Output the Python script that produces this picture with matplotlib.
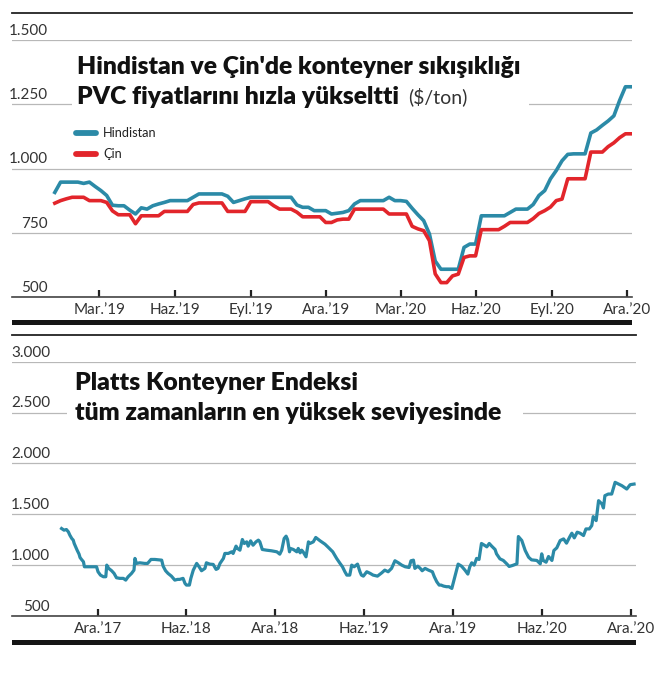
import matplotlib
matplotlib.use("Agg")
import matplotlib.pyplot as plt
from matplotlib.patches import Rectangle
from matplotlib.lines import Line2D
import matplotlib.transforms as mtransforms
import pandas as pd

# ---------------- DATA ----------------
pvc_start = "2019-01-06"   # weekly series
hindistan = [907, 947, 947, 947, 947, 942, 947, 930, 914, 895,
             857, 855, 855, 838, 823, 847, 842, 855, 862, 868,
             875, 875, 875, 875, 888, 901, 901, 901, 901, 901,
             892, 868, 875, 882, 888, 888, 888, 888, 888, 888,
             888, 888, 858, 849, 849, 836, 836, 836, 823, 826,
             829, 836, 862, 875, 875, 875, 875, 875, 888, 875,
             875, 872, 845, 820, 797, 745, 640, 608, 608, 608,
             608, 693, 706, 706, 816, 816, 816, 816, 816, 829,
             842, 842, 842, 860, 895, 914, 960, 992, 1030, 1055,
             1057, 1057, 1057, 1138, 1150, 1168, 1185, 1205, 1265, 1318,
             1318]
cin = [865, 875, 882, 888, 888, 888, 875, 875, 875, 868,
       835, 820, 820, 820, 785, 816, 816, 816, 816, 833,
       833, 833, 833, 833, 860, 866, 866, 866, 866, 866,
       833, 833, 833, 833, 871, 871, 871, 871, 855, 842,
       842, 842, 830, 812, 812, 812, 812, 790, 790, 800,
       803, 803, 842, 842, 842, 842, 842, 842, 823, 823,
       823, 823, 775, 765, 758, 719, 590, 556, 556, 582,
       589, 654, 660, 660, 762, 762, 762, 762, 775, 790,
       790, 790, 790, 805, 825, 836, 850, 875, 881, 960,
       960, 960, 960, 1064, 1064, 1064, 1085, 1100, 1120, 1135,
       1135]
pvc_series = ["Hindistan", "Çin"]
pvc_xticks = ["2019-03-01", "2019-06-01", "2019-09-01", "2019-12-01",
              "2020-03-01", "2020-06-01", "2020-09-01", "2020-12-01"]
pvc_xlabels = ["Mar.’19", "Haz.’19", "Eyl.’19", "Ara.’19",
               "Mar.’20", "Haz.’20", "Eyl.’20", "Ara.’20"]
pvc_yticks = [500, 750, 1000, 1250, 1500]
pvc_ylabels = ["500", "750", "1.000", "1.250", "1.500"]

platts_start = "2017-09-17"
platts_days = [0, 5, 10, 14, 17, 21, 24, 26, 29, 32,
               36, 38, 41, 45, 47, 55, 72, 75, 80, 86,
               91, 93, 97, 103, 108, 113, 120, 127, 132, 137,
               144, 149, 151, 154, 161, 171, 177, 184, 192, 206,
               209, 214, 219, 226, 233, 239, 243, 250, 254, 257,
               263, 266, 271, 278, 283, 288, 295,
               298, 305, 312, 318, 322, 326, 333, 336, 343, 350,
               353, 359, 362, 367, 372, 376, 381, 384, 389, 394,
               400, 405, 408, 413, 422, 432, 443, 449, 453, 458,
               462, 465, 469, 471, 477, 484, 487, 491, 494, 497,
               503, 508, 511, 518, 523, 532, 542, 549, 558, 566,
               573, 578, 583, 587, 593,
               597, 602, 609, 614, 617, 621, 628, 635, 641, 650,
               659, 665, 672, 679, 686, 693, 700, 707, 715, 719,
               724, 727, 733, 738, 742, 748, 755, 763, 767, 772,
               777, 781, 786, 792, 797, 803, 810, 816, 823, 830,
               836, 840, 844, 849, 854, 859, 864, 870, 875, 880,
               885, 892,
               895, 902, 909, 916, 921, 928, 937, 940, 947, 954,
               961, 967, 978, 985, 988, 991, 997, 1002, 1009, 1013,
               1019, 1026, 1033, 1039, 1046, 1050, 1055, 1061, 1067, 1074,
               1079, 1086, 1091, 1094, 1100, 1105, 1112, 1115, 1118, 1125,
               1132, 1139, 1146, 1153, 1163, 1170, 1178]
platts_values = [1360, 1344, 1350, 1327, 1295, 1262, 1246, 1213, 1180, 1147,
                 1108, 1075, 1056, 1033, 984, 984, 984, 935, 902, 886,
                 886, 1000, 968, 945, 919, 876, 870, 870, 853, 886,
                 919, 951, 1066, 1017, 1023, 1017, 1017, 1056, 1056, 1049,
                 990, 945, 919, 892, 853, 860, 860, 870, 820, 804,
                 804, 870, 951, 1017, 984, 945, 968,
                 1023, 1010, 1007, 958, 968, 1017, 1066, 1115, 1115, 1131,
                 1115, 1187, 1164, 1147, 1252, 1213, 1229, 1187, 1239, 1196,
                 1229, 1246, 1229, 1154, 1147, 1141, 1131, 1108, 1147, 1262,
                 1285, 1252, 1131, 1164, 1154, 1131, 1164, 1121, 1147, 1131,
                 1082, 1229, 1213, 1229, 1272, 1239, 1206, 1174, 1131, 1066,
                 1017, 984, 935, 902, 902,
                 1000, 984, 1010, 935, 902, 892, 935, 919, 902, 892,
                 925, 951, 935, 968, 1043, 1023, 1000, 984, 977, 1043,
                 1049, 968, 990, 968, 945, 968, 951, 935, 886, 837,
                 804, 804, 794, 788, 788, 771, 902, 1010, 990, 951,
                 912, 984, 1023, 1000, 1066, 1056, 1213, 1196, 1180, 1213,
                 1187, 1154,
                 1111, 1062, 1046, 1013, 987, 997, 1013, 1281, 1242, 1144,
                 1078, 1052, 1046, 1013, 1111, 1046, 1029, 1085, 1046, 1144,
                 1170, 1242, 1258, 1216, 1281, 1314, 1268, 1324, 1314, 1291,
                 1356, 1356, 1389, 1477, 1438, 1634, 1601, 1562, 1683, 1699,
                 1699, 1814, 1797, 1781, 1748, 1791, 1797]
platts_xticks = ["2017-12-01", "2018-06-01", "2018-12-01", "2019-06-01",
                 "2019-12-01", "2020-06-01", "2020-12-01"]
platts_xlabels = ["Ara.’17", "Haz.’18", "Ara.’18", "Haz.’19",
                  "Ara.’19", "Haz.’20", "Ara.’20"]
platts_yticks = [500, 1000, 1500, 2000, 2500, 3000]
platts_ylabels = ["500", "1.000", "1.500", "2.000", "2.500", "3.000"]

title1 = ["Hindistan ve Çin'de konteyner sıkışıklığı", "PVC fiyatlarını hızla yükseltti"]
unit1 = "($/ton)"
title2 = ["Platts Konteyner Endeksi", "tüm zamanların en yüksek seviyesinde"]

# ---------------- STYLE ----------------
BLUE = "#2b8aa7"
RED = "#e2252b"
FONT = ["Lato", "DejaVu Sans"]
plt.rcParams["font.family"] = FONT

W, H = 670, 684
fig = plt.figure(figsize=(W / 100, H / 100), dpi=100)
fig.patch.set_facecolor("white")
renderer = fig.canvas.get_renderer()


def fx(x):
    return x / W


def fy(y):
    return 1 - y / H


def fit(t, width_px):
    bb = t.get_window_extent(renderer)
    t.set_fontsize(t.get_fontsize() * width_px / bb.width)


def setup(ax, x0, x1, yticks, ylabels, xticks, xlabels, label_right_px, left_px, width_px):
    ax.set_xlim(pd.Timestamp(x0), pd.Timestamp(x1))
    ax.set_ylim(yticks[0], yticks[-1])
    ax.set_facecolor("none")
    for s in ["top", "left", "right"]:
        ax.spines[s].set_visible(False)
    ax.spines["bottom"].set_color("#444444")
    ax.spines["bottom"].set_linewidth(1.2)
    ax.set_yticks(yticks)
    ax.tick_params(axis="y", length=0, labelleft=False)
    ax.grid(axis="y", color="#b8b8b8", lw=0.9)
    ax.set_axisbelow(True)
    ax.set_xticks(pd.to_datetime(xticks))
    ax.set_xticklabels(xlabels)
    ax.tick_params(axis="x", direction="in", length=5, width=1.6, color="#222222",
                   pad=4, labelsize=11, labelcolor="#333333")
    trans = mtransforms.offset_copy(ax.get_yaxis_transform(), fig=fig, y=1.5, units="points")
    for v, lab in zip(yticks, ylabels):
        ax.text((label_right_px - left_px) / width_px, v, lab, transform=trans,
                ha="right", va="bottom", fontsize=11, color="#333333")


# ---------------- TOP CHART ----------------
L1, R1 = 12, 632
ax1 = fig.add_axes([fx(L1), fy(297), (R1 - L1) / W, (297 - 40) / H])
setup(ax1, "2018-11-15", "2020-12-07", pvc_yticks, pvc_ylabels,
      pvc_xticks, pvc_xlabels, 48, L1, R1 - L1)
dates1 = pd.date_range(pvc_start, periods=len(hindistan), freq="7D")
ax1.plot(dates1, hindistan, color=BLUE, lw=2.6, solid_joinstyle="round", zorder=3)
ax1.plot(dates1, cin, color=RED, lw=2.6, solid_joinstyle="round", zorder=3)

# white box behind title
ax1.add_patch(Rectangle((fx(72), fy(116)), fx(529) - fx(72), fy(48) - fy(116),
                        transform=fig.transFigure, facecolor="white", edgecolor="none",
                        zorder=1, clip_on=False))
t = fig.text(fx(77), fy(67), title1[0], fontsize=15, fontweight="heavy",
             color="#111111", va="center", ha="left")
fit(t, 445)
fs_title = t.get_fontsize()
t2 = fig.text(fx(77), fy(97), title1[1], fontsize=fs_title, fontweight="heavy",
              color="#111111", va="center", ha="left")
tu = fig.text(fx(408), fy(97), unit1, fontsize=13, fontweight="normal",
              color="#333333", va="center", ha="left")
fit(tu, 59)

# legend
for i, (name, col) in enumerate(zip(pvc_series, [BLUE, RED])):
    yy = 133 + i * 21
    fig.add_artist(Line2D([fx(76), fx(96)], [fy(yy), fy(yy)], color=col, lw=4.2,
                          solid_capstyle="round", transform=fig.transFigure))
    tl = fig.text(fx(103), fy(yy), name, fontsize=10.5, color="#222222",
                  va="center", ha="left")
    if i == 0:
        fit(tl, 54)
        fs_leg = tl.get_fontsize()
    else:
        tl.set_fontsize(fs_leg)

# rules
fig.add_artist(Line2D([fx(12), fx(632)], [fy(12.5), fy(12.5)], color="#222222", lw=1.3,
                      transform=fig.transFigure))
fig.add_artist(Rectangle((fx(12), fy(325)), fx(632) - fx(12), fy(319.5) - fy(325),
                         transform=fig.transFigure, facecolor="#151515", edgecolor="none"))
fig.add_artist(Line2D([fx(12), fx(636)], [fy(335.5), fy(335.5)], color="#222222", lw=1.3,
                      transform=fig.transFigure))

# ---------------- BOTTOM CHART ----------------
L2, R2 = 12, 636
ax2 = fig.add_axes([fx(L2), fy(616), (R2 - L2) / W, (616 - 361.7) / H])
setup(ax2, "2017-06-07", "2020-12-12", platts_yticks, platts_ylabels,
      platts_xticks, platts_xlabels, 50, L2, R2 - L2)
dates2 = pd.Timestamp(platts_start) + pd.to_timedelta(platts_days, unit="D")
ax2.plot(dates2, platts_values, color=BLUE, lw=2.3, solid_joinstyle="round", zorder=3)

ax2.add_patch(Rectangle((fx(67), fy(430)), fx(523) - fx(67), fy(368) - fy(430),
                        transform=fig.transFigure, facecolor="white", edgecolor="none",
                        zorder=1, clip_on=False))
b1 = fig.text(fx(75), fy(383), title2[0], fontsize=15, fontweight="heavy",
              color="#111111", va="center", ha="left")
fit(b1, 285)
b2 = fig.text(fx(75), fy(413), title2[1], fontsize=b1.get_fontsize(), fontweight="heavy",
              color="#111111", va="center", ha="left")

fig.add_artist(Rectangle((fx(12), fy(644.5)), fx(636) - fx(12), fy(640) - fy(644.5),
                         transform=fig.transFigure, facecolor="#151515", edgecolor="none"))

fig.savefig("out.png", dpi=100, facecolor="white")
